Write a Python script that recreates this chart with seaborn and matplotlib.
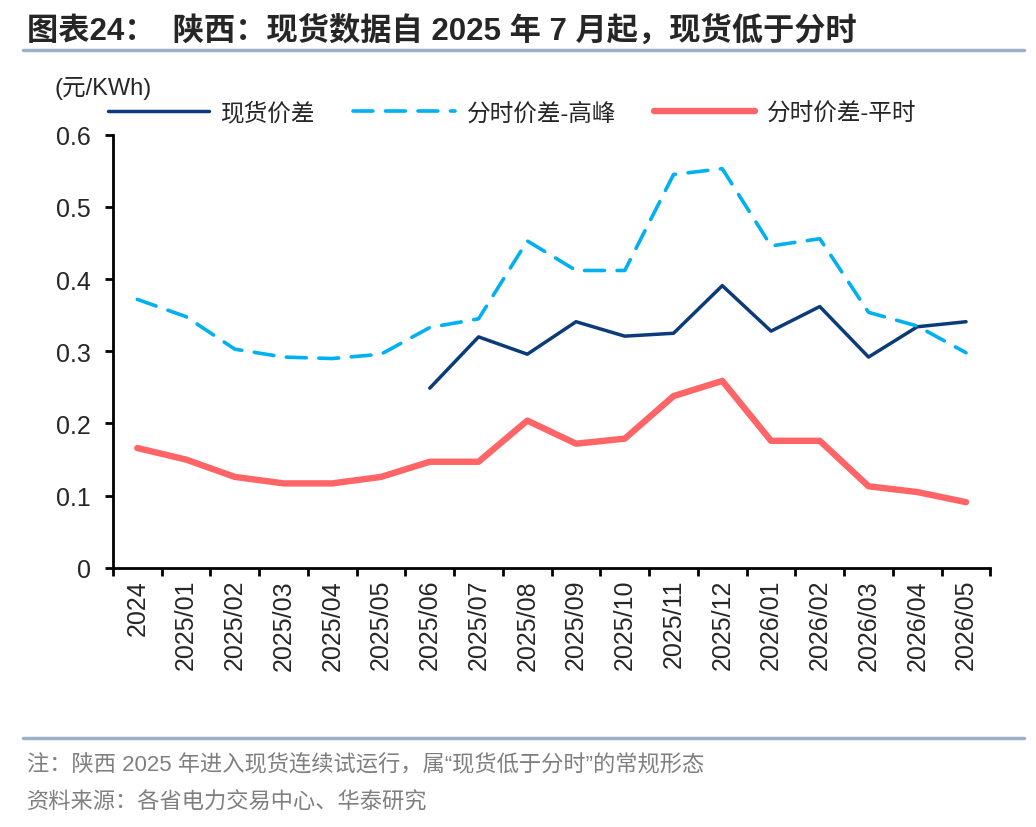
import matplotlib
matplotlib.use('Agg')
import matplotlib.pyplot as plt
import seaborn as sns
import numpy as np
import pandas as pd

# data
months = ['2024', '2025/01', '2025/02', '2025/03', '2025/04', '2025/05', '2025/06',
          '2025/07', '2025/08', '2025/09', '2025/10', '2025/11', '2025/12',
          '2026/01', '2026/02', '2026/03', '2026/04', '2026/05']
spot_spread = [np.nan, np.nan, np.nan, np.nan, np.nan, np.nan, 0.249,
               0.320, 0.296, 0.341, 0.321, 0.325, 0.391,
               0.328, 0.362, 0.292, 0.334, 0.341]
tou_peak = [0.372, 0.348, 0.303, 0.292, 0.290, 0.296, 0.333,
            0.345, 0.453, 0.412, 0.412, 0.545, 0.553,
            0.446, 0.456, 0.354, 0.335, 0.298]
tou_flat = [0.166, 0.150, 0.126, 0.117, 0.117, 0.126, 0.147,
            0.147, 0.204, 0.172, 0.179, 0.238, 0.259,
            0.176, 0.176, 0.113, 0.105, 0.091]
series_names = ['现货价差', '分时价差-高峰', '分时价差-平时']
y_ticks = [0, 0.1, 0.2, 0.3, 0.4, 0.5, 0.6]

df = pd.DataFrame({'month': months, series_names[0]: spot_spread,
                   series_names[1]: tou_peak, series_names[2]: tou_flat})
df['pos'] = np.arange(len(months))

sns.set_theme(style='white')
plt.rcParams['font.family'] = ['Liberation Sans', 'Noto Sans CJK SC']
plt.rcParams['axes.unicode_minus'] = False

fig = plt.figure(figsize=(10.36, 8.28), dpi=100)
ax = fig.add_axes([0.109, 0.313, 0.847, 0.523])

styles = {
    series_names[0]: dict(color='#0B3B78', linewidth=2.5, linestyle='-'),
    series_names[1]: dict(color='#00B0F0', linewidth=2.6, linestyle=(0, (5.5, 3.5))),
    series_names[2]: dict(color='#FF6566', linewidth=4.6, linestyle='-'),
}
for name in series_names:
    sub = df[['pos', name]].dropna()
    sns.lineplot(x=sub['pos'], y=sub[name], ax=ax, label=name,
                 solid_capstyle='round', dash_capstyle='round', **styles[name])

ax.set_xlim(-0.5, len(months) - 0.5)
ax.set_ylim(0, 0.6)
ax.set_yticks(y_ticks)
ax.set_yticklabels(['0' if v == 0 else f'{v:.1f}' for v in y_ticks])

# boundary ticks like the original, labels centred between them
ax.set_xticks(np.arange(-0.5, len(months), 1.0))
ax.set_xticklabels([])
ax.set_xticks(df['pos'], minor=True)
ax.set_xticklabels(months, minor=True, rotation=90, fontsize=18)
ax.tick_params(axis='x', which='major', length=6, width=2, direction='out', bottom=True, color='black')
ax.tick_params(axis='x', which='minor', length=0, pad=8)
ax.tick_params(axis='y', length=6, width=2, direction='out', left=True, labelsize=18, pad=10, color='black')
for lab in ax.get_xticklabels(minor=True):
    lab.set_verticalalignment('top')

ax.set_xlabel('')
ax.set_ylabel('')
for side in ['top', 'right']:
    ax.spines[side].set_visible(False)
for side in ['left', 'bottom']:
    ax.spines[side].set_color('black')
    ax.spines[side].set_linewidth(2)

ax.legend(loc='center left', bbox_to_anchor=(-0.006, 1.05), ncol=3, frameon=False,
          fontsize=17, handlelength=4.3, handletextpad=0.5, columnspacing=1.6,
          borderaxespad=0, borderpad=0)

fig.text(0.053, 0.893, '(元/KWh)', fontsize=17, va='center', ha='left')

# title and separators
fig.text(0.026, 0.962, '图表24：  陕西：现货数据自 2025 年 7 月起，现货低于分时',
         fontsize=22.5, fontweight='bold', va='center', ha='left')
fig.add_artist(plt.Line2D([0.022, 0.988], [0.938, 0.938], color='#9CB2CB', linewidth=2.5))
fig.add_artist(plt.Line2D([0.022, 0.988], [0.107, 0.107], color='#9CB2CB', linewidth=2.5))

fig.text(0.026, 0.075, '注：陕西 2025 年进入现货连续试运行，属“现货低于分时”的常规形态',
         fontsize=16, color='#7F7F7F', va='center', ha='left')
fig.text(0.026, 0.030, '资料来源：各省电力交易中心、华泰研究',
         fontsize=16, color='#7F7F7F', va='center', ha='left')

fig.savefig('out.png', dpi=100)
